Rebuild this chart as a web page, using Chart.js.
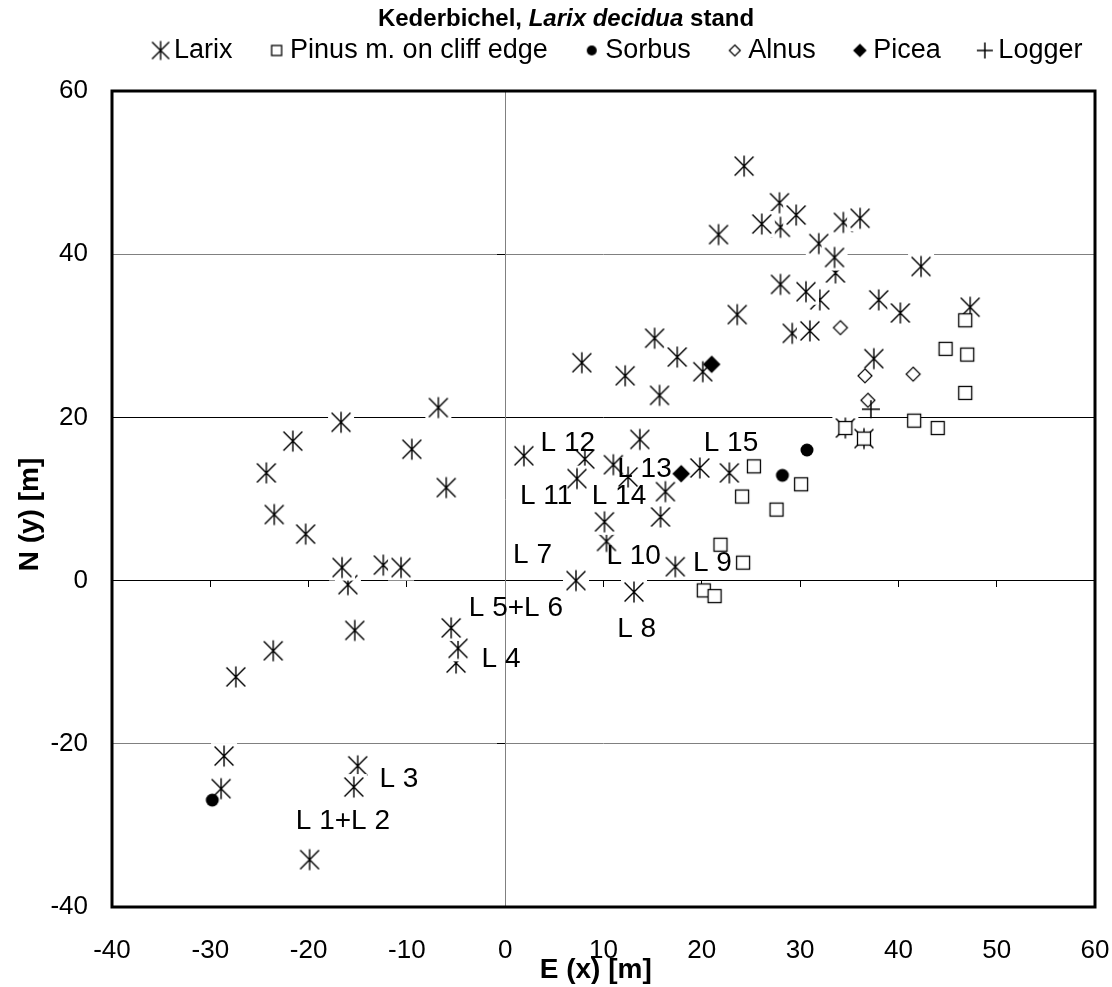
<!DOCTYPE html>
<html>
<head>
<meta charset="utf-8">
<script src="https://cdn.jsdelivr.net/npm/chart.js@4.4.1/dist/chart.umd.min.js"></script>
<style>
  html, body { margin: 0; padding: 0; background: #fff; }
</style>
</head>
<body>
<canvas id="myChart" width="1112" height="987"></canvas>
<script>
// DATA (metres)
// hidden / partly covered trees come first so later ones sit on top
const larixX = [28.0, 33.6, 32.0, 34.6, 36.5, 12.5, 15.8, 10.3, -16.0, -5.0, -4.8,
  24.3, 27.9, 29.6, 26.1, 34.4, 36.1, 21.7, 31.9, 33.5, 28.0, 30.6, 38.0, 40.2, 42.3, 47.3, 23.6, 29.2, 31.0, 15.2, 17.5, 7.8, 20.1, 12.2, 15.7, 37.5,
  1.9, 13.7, 8.1, 11.0, 7.3, 19.8, 22.8, 16.3, 10.1, 17.3, 7.2, 13.1,
  -6.8, -16.7, -21.6, -9.5, -24.3, -6.0, -23.5, -20.3, -16.6, -12.4, -10.6, -15.3, -5.5, -23.6, -27.4,
  -28.6, -28.9, -15.0, -15.4, -19.9];
const larixY = [43.3, 37.7, 34.4, 18.7, 17.4, 12.7, 7.8, 4.8, -0.5, -10.1, -8.3,
  50.8, 46.3, 44.8, 43.7, 43.9, 44.4, 42.4, 41.3, 39.6, 36.3, 35.4, 34.4, 32.8, 38.5, 33.5, 32.6, 30.3, 30.6, 29.7, 27.4, 26.7, 25.6, 25.1, 22.7, 27.2,
  15.3, 17.3, 14.9, 14.2, 12.5, 13.8, 13.2, 10.9, 7.2, 1.7, 0.0, -1.4,
  21.2, 19.4, 17.1, 16.1, 13.2, 11.4, 8.1, 5.7, 1.6, 1.9, 1.6, -6.1, -5.8, -8.6, -11.8,
  -21.5, -25.5, -22.7, -25.3, -34.2];

const pinusX = [46.8, 44.8, 47.0, 46.8, 41.6, 44.0, 34.6, 36.5, 25.3, 30.1, 24.1, 27.6, 21.9, 24.2, 20.2, 21.3];
const pinusY = [31.9, 28.4, 27.7, 23.0, 19.6, 18.7, 18.7, 17.4, 14.0, 11.8, 10.3, 8.7, 4.4, 2.2, -1.2, -1.9];

const sorbusX = [30.7, 28.2, -29.8];
const sorbusY = [16.0, 12.9, -26.9];

const alnusX = [34.1, 36.6, 36.9, 41.5];
const alnusY = [31.0, 25.1, 22.1, 25.3];

const piceaX = [21.0, 17.9];
const piceaY = [26.5, 13.1];

const loggerX = [37.2];
const loggerY = [21.0];

// tree labels, anchored at the left end of the text
const labelText = ["L 1+L 2", "L 3", "L 4", "L 5+L 6", "L 7", "L 8", "L 9", "L 10", "L 11", "L 12", "L 13", "L 14", "L 15"];
const labelX = [-21.3, -12.8, -2.4, -3.7, 0.8, 11.4, 19.1, 10.3, 1.5, 3.6, 11.4, 8.8, 20.2];
const labelY = [-29.5, -24.4, -9.7, -3.4, 3.1, -6.0, 2.1, 3.0, 10.3, 16.8, 13.6, 10.3, 16.8];

const seriesNames = ["Larix", "Pinus m. on cliff edge", "Sorbus", "Alnus", "Picea", "Logger"];
const xTickStep = 10;
const yTickStep = 20;

const FONT = "'Liberation Sans', Arial, sans-serif";
Chart.defaults.font.family = FONT;
Chart.defaults.color = "#000";

function pts(xs, ys) {
  return xs.map((x, i) => ({ x: x, y: ys[i] }));
}

// marker glyphs drawn into small canvases (used as pointStyle)
function mark(w, h, cx, draw) {
  const c = document.createElement("canvas");
  c.width = w; c.height = h;
  const g = c.getContext("2d");
  g.strokeStyle = "#000";
  g.fillStyle = "#000";
  draw(g, cx, h / 2);
  return c;
}
function asterisk(g, x, y, r, bg) {
  if (bg) { g.fillStyle = "#fff"; g.fillRect(x - bg, y - bg, bg * 2, bg * 2); }
  g.lineWidth = 1.4;
  g.beginPath();
  g.moveTo(x, y - r); g.lineTo(x, y + r);
  g.moveTo(x - r * 0.9, y - r * 0.9); g.lineTo(x + r * 0.9, y + r * 0.9);
  g.moveTo(x + r * 0.9, y - r * 0.9); g.lineTo(x - r * 0.9, y + r * 0.9);
  g.stroke();
}
function square(g, x, y, r) {
  g.fillStyle = "#fff";
  g.fillRect(x - r, y - r, r * 2, r * 2);
  g.lineWidth = 1.3;
  g.strokeRect(x - r, y - r, r * 2, r * 2);
}
function dot(g, x, y, r) {
  g.fillStyle = "#000";
  g.beginPath(); g.arc(x, y, r, 0, Math.PI * 2); g.fill();
}
function diamond(g, x, y, r, filled) {
  g.beginPath();
  g.moveTo(x, y - r); g.lineTo(x + r, y); g.lineTo(x, y + r); g.lineTo(x - r, y); g.closePath();
  g.fillStyle = filled ? "#000" : "#fff";
  g.fill();
  g.lineWidth = 1.2;
  g.stroke();
}
function plus(g, x, y, r) {
  g.lineWidth = 1.5;
  g.beginPath();
  g.moveTo(x - r, y); g.lineTo(x + r, y);
  g.moveTo(x, y - r); g.lineTo(x, y + r);
  g.stroke();
}

const pointMarks = [
  mark(28, 28, 14, (g, x, y) => asterisk(g, x, y, 10.5, 13)),
  mark(18, 18, 9, (g, x, y) => square(g, x, y, 6.5)),
  mark(16, 16, 8, (g, x, y) => dot(g, x, y, 6.5)),
  mark(18, 18, 9, (g, x, y) => diamond(g, x, y, 7, false)),
  mark(20, 20, 10, (g, x, y) => diamond(g, x, y, 8, true)),
  mark(22, 22, 11, (g, x, y) => plus(g, x, y, 9))
];
// legend versions: ink pushed right so it sits close to its text
const legendMarks = [
  mark(36, 24, 26, (g, x, y) => asterisk(g, x, y, 9.5, 0)),
  mark(36, 24, 26, (g, x, y) => square(g, x, y, 5)),
  mark(36, 24, 26, (g, x, y) => dot(g, x, y, 5)),
  mark(36, 24, 26, (g, x, y) => diamond(g, x, y, 5.5, false)),
  mark(36, 24, 26, (g, x, y) => diamond(g, x, y, 6, true)),
  mark(36, 24, 26, (g, x, y) => plus(g, x, y, 8))
];

const seriesX = [larixX, pinusX, sorbusX, alnusX, piceaX, loggerX];
const seriesY = [larixY, pinusY, sorbusY, alnusY, piceaY, loggerY];

const datasets = seriesNames.map((name, i) => ({
  label: name,
  data: pts(seriesX[i], seriesY[i]),
  pointStyle: pointMarks[i],
  pointRadius: 8,
  showLine: false,
  order: seriesNames.length - i // Larix drawn first, Logger last
}));

// plot frame, title with italic species name, tree labels, legend nudge
const extras = {
  id: "extras",
  afterLayout(chart) {
    const lg = chart.legend;
    lg.left += 66; lg.right += 66;
    lg.top -= 17; lg.bottom -= 17;
  },
  beforeDatasetsDraw(chart) {
    const { ctx, chartArea: a } = chart;
    ctx.save();
    ctx.strokeStyle = "#000";
    ctx.lineWidth = 3;
    ctx.strokeRect(a.left, a.top, a.right - a.left, a.bottom - a.top);
    ctx.restore();
  },
  afterDatasetsDraw(chart) {
    const { ctx, scales } = chart;
    ctx.save();
    ctx.fillStyle = "#000";
    ctx.font = "28px " + FONT;
    ctx.textAlign = "left";
    ctx.textBaseline = "middle";
    labelText.forEach((t, i) => {
      ctx.fillText(t, scales.x.getPixelForValue(labelX[i]), scales.y.getPixelForValue(labelY[i]));
    });
    ctx.restore();
  },
  afterDraw(chart) {
    const ctx = chart.ctx;
    const parts = [["Kederbichel, ", "bold"], ["Larix decidua", "italic bold"], [" stand", "bold"]];
    ctx.save();
    ctx.fillStyle = "#000";
    ctx.textBaseline = "middle";
    ctx.textAlign = "left";
    let total = 0;
    parts.forEach(p => { ctx.font = p[1] + " 24px " + FONT; total += ctx.measureText(p[0]).width; });
    let x = 566 - total / 2;
    parts.forEach(p => {
      ctx.font = p[1] + " 24px " + FONT;
      ctx.fillText(p[0], x, 19);
      x += ctx.measureText(p[0]).width;
    });
    ctx.restore();
  }
};

const config = {
  type: "scatter",
  data: { datasets },
  options: {
    responsive: false,
    animation: false,
    events: [],
    layout: { padding: { top: 26, right: 17, left: 0, bottom: 0 } },
    plugins: {
      title: { display: false },
      tooltip: { enabled: false },
      legend: {
        display: true,
        position: "top",
        labels: {
          usePointStyle: true,
          pointStyleWidth: 16,
          padding: 28,
          font: { size: 27 },
          sort: (a, b) => a.datasetIndex - b.datasetIndex,
          generateLabels: (chart) => {
            const items = Chart.defaults.plugins.legend.labels.generateLabels(chart);
            items.forEach((it) => { it.pointStyle = legendMarks[it.datasetIndex]; });
            return items;
          }
        }
      }
    },
    scales: {
      x: {
        type: "linear", position: "bottom", min: -40, max: 60,
        ticks: { stepSize: xTickStep, padding: 2, font: { size: 26 }, color: "#000", maxRotation: 0 },
        // invisible tick length keeps the labels clear of the frame
        grid: { display: false, drawTicks: true, tickLength: 26 },
        border: { display: false },
        title: { display: true, text: "E (x) [m]  ", font: { size: 28, weight: "bold" }, padding: { top: 0, bottom: 0 } },
        afterFit: (s) => { s.height = 80; }
      },
      y: {
        type: "linear", position: "left", min: -40, max: 60,
        ticks: { stepSize: yTickStep, padding: 24, font: { size: 26 }, color: "#000" },
        grid: {
          drawTicks: false,
          lineWidth: 1,
          color: (c) => (c.tick && (c.tick.value === 0 || c.tick.value === 20)) ? "#000" : "#808080"
        },
        border: { display: false },
        title: { display: true, text: "N (y) [m]    ", font: { size: 28, weight: "bold" }, padding: { top: 13, bottom: 0 } },
        afterFit: (s) => { s.width = 112; }
      },
      // axis lines crossing at the origin, with their small tick marks
      xZero: {
        type: "linear", axis: "x", position: { y: 0 }, min: -40, max: 60,
        ticks: { display: false, stepSize: xTickStep },
        grid: { drawOnChartArea: false, drawTicks: true, tickLength: 6, color: "#000" },
        border: { display: true, color: "#000", width: 1 }
      },
      yZero: {
        type: "linear", axis: "y", position: { x: 0 }, min: -40, max: 60,
        ticks: { display: false, stepSize: yTickStep },
        grid: { drawOnChartArea: false, drawTicks: true, tickLength: 8, color: "#000" },
        border: { display: true, color: "#808080", width: 1 }
      }
    }
  },
  plugins: [extras]
};

const myChart = new Chart(document.getElementById("myChart"), config);
</script>
</body>
</html>
